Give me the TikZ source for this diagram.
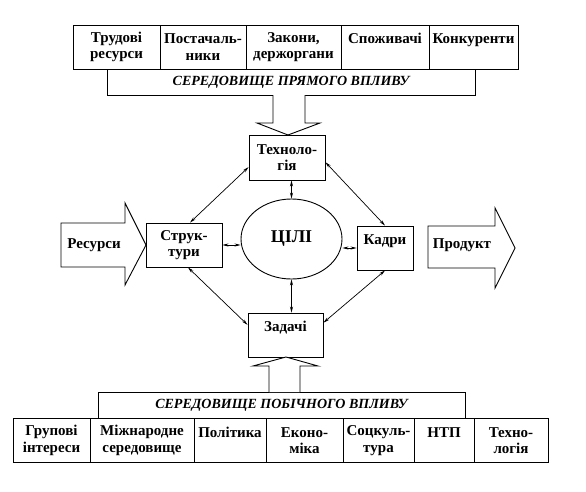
\documentclass[tikz,border=0pt]{standalone}
\usepackage{fontspec}
\setmainfont{Liberation Serif}
\usetikzlibrary{arrows.meta,shapes.geometric,calc}
\begin{document}
\begin{tikzpicture}[x=1pt,y=-1pt,
  txt/.style={font=\bfseries\fontsize{15}{16.5}\selectfont, align=center, inner sep=0pt},
  cell/.style={txt, draw, line width=0.9pt, minimum height=44pt},
  banner/.style={draw, line width=0.9pt, minimum height=26pt, inner sep=0pt,
     font=\bfseries\itshape\fontsize{14}{16}\selectfont},
  bigarrow/.style={draw, line width=0.9pt, fill=white, line join=miter},
  conn/.style={{Stealth[length=6pt,width=3pt]}-{Stealth[length=6pt,width=3pt]}, line width=0.7pt},
  goalstyle/.style={draw, ellipse, line width=0.9pt, minimum width=101pt, minimum height=80pt,
     inner sep=0pt, font=\bfseries\fontsize{18}{20}\selectfont}
]
\fill[white] (0,0) rectangle (586,491);
\useasboundingbox (0,0) rectangle (586,491);

% top row
\node[cell, minimum width=87pt] (t1) at (116.5,47) {Трудові\\ресурси};
\node[cell, minimum width=86pt] (t2) at (203,47) {Постачаль-\\ники};
\node[cell, minimum width=95pt] (t3) at (293.5,47) {Закони,\\держоргани};
\node[cell, minimum width=88pt] (t4) at (385,47) {Споживачі\\\mbox{}};
\node[cell, minimum width=89pt] (t5) at (473.5,47) {Конкуренти\\\mbox{}};
\node[banner, minimum width=368pt] (top) at (291,82) {СЕРЕДОВИЩЕ ПРЯМОГО ВПЛИВУ};

% central nodes
\node[cell, minimum width=76pt, minimum height=45pt] (tech) at (287,157.5) {Техноло-\\гія};
\node[goalstyle] (goal) at (291.5,239) {ЦІЛІ};
\node[cell, minimum width=76pt] (struct) at (184,245) {Струк-\\тури};
\node[cell, minimum width=56pt] (kadry) at (385,248) {Кадри\\\mbox{}};
\node[cell, minimum width=75pt] (zad) at (285.5,335) {Задачі\\\mbox{}};

% bottom row
\node[banner, minimum width=367pt] (bot) at (281.5,405) {СЕРЕДОВИЩЕ ПОБІЧНОГО ВПЛИВУ};
\node[cell, minimum width=77pt] (b1) at (51.5,440.5) {Групові\\інтереси};
\node[cell, minimum width=104pt] (b2) at (142,440.5) {Міжнародне\\середовище};
\node[cell, minimum width=72pt] (b3) at (230,440.5) {Політика\\\mbox{}};
\node[cell, minimum width=77pt] (b4) at (304.5,440.5) {Еконо-\\міка};
\node[cell, minimum width=71pt] (b5) at (378.5,440.5) {Соцкуль-\\тура};
\node[cell, minimum width=60pt] (b6) at (444,440.5) {НТП\\\mbox{}};
\node[cell, minimum width=74pt] (b7) at (511,440.5) {Техно-\\логія};

% big arrows
\draw[bigarrow] (273,95) -- (273,123) -- (257,123) -- (288,135) -- (320,123) -- (305,123) -- (305,95);
\draw[bigarrow] (269,392) -- (269,366) -- (253,366) -- (286,357) -- (318,366) -- (300,366) -- (300,392);
\draw[bigarrow] (61,223) -- (125,223) -- (125,203) -- (146,245) -- (125,285) -- (125,267) -- (61,267) -- cycle;
\draw[bigarrow] (428,226) -- (495,226) -- (495,208) -- (515,248) -- (495,288) -- (495,268) -- (428,268) -- cycle;
\node[txt] (res) at (94,245) {Ресурси};
\node[txt] (prod) at (462,245) {Продукт};

% connectors
\draw[conn] (tech.194) -- (struct.75);
\draw[conn] (tech.353) -- (kadry.north);
\draw[conn] (struct.280) -- (zad.165);
\draw[conn] (kadry.south) -- (zad.18);
\draw[conn] (goal.north |- tech.south) -- (goal.north);
\draw[conn] (goal.south) -- (goal.south |- zad.north);
\draw[conn] (struct.east) -- (struct.east -| goal.west);
\draw[conn] (kadry.west -| goal.east) -- (kadry.west);
\end{tikzpicture}
\end{document}
